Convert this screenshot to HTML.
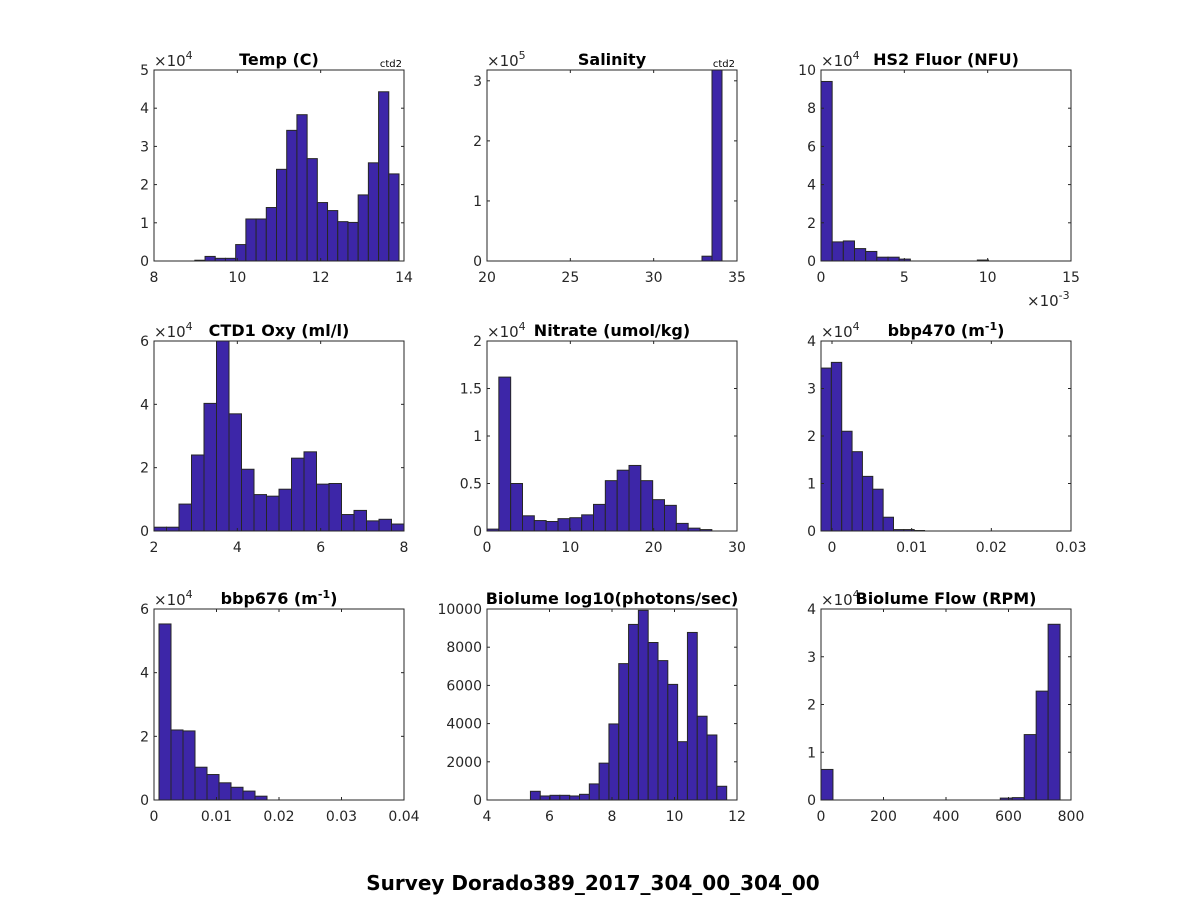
<!DOCTYPE html>
<html><head><meta charset="utf-8"><style>
html,body{margin:0;padding:0;background:#fff;}
svg{display:block;font-family:"DejaVu Sans","Liberation Sans",sans-serif;}
</style></head><body>
<svg id="fig" width="1188" height="900" viewBox="0 0 1188 900" xmlns="http://www.w3.org/2000/svg">
<rect width="1188" height="900" fill="#fff"/>
<text x="593" y="890" text-anchor="middle" font-size="20" font-weight="bold" fill="#000">Survey Dorado389_2017_304_00_304_00</text>
</svg>
<script>
// ---- data ----
const tempStart = 8.98, tempWidth = 0.245;
const tempCounts = [0.02,0.12,0.07,0.07,0.43,1.1,1.1,1.4,2.4,3.42,3.83,2.68,1.53,1.32,1.03,1.01,1.73,2.57,4.43,2.28];
const salStart = 32.9, salWidth = 0.6;
const salCounts = [0.08,3.5];
const fluorStart = 0, fluorWidth = 0.67;
const fluorCounts = [9.4,1.0,1.05,0.65,0.5,0.2,0.2,0.1,0,0,0,0,0,0,0.05];
const oxyStart = 2.0, oxyWidth = 0.3;
const oxyCounts = [0.12,0.12,0.85,2.4,4.03,6.0,3.7,1.95,1.15,1.1,1.32,2.3,2.5,1.48,1.5,0.52,0.65,0.32,0.37,0.22];
const nitStart = 0, nitWidth = 1.42;
const nitCounts = [0.02,1.62,0.5,0.16,0.11,0.1,0.13,0.14,0.17,0.28,0.53,0.64,0.69,0.53,0.33,0.27,0.08,0.03,0.015];
const b470Start = -0.00138, b470Width = 0.0013;
const b470Counts = [3.43,3.55,2.1,1.67,1.15,0.88,0.29,0.03,0.03,0.01];
const b676Start = 0.0008, b676Width = 0.00192;
const b676Counts = [5.53,2.2,2.17,1.03,0.8,0.54,0.4,0.28,0.12];
const bioStart = 5.39, bioWidth = 0.314;
const bioCounts = [456,211,246,246,211,298,842,1930,3982,7140,9193,9930,8246,7298,6053,3053,8772,4386,3404,719];
const flowStart = 0, flowWidth = 38.25;
const flowCounts = [0.64,0,0,0,0,0,0,0,0,0,0,0,0,0,0,0.04,0.05,1.37,2.28,3.68];
// tick labels
const tempXTicks = [8,10,12,14], tempYTicks = [0,1,2,3,4,5];
const salXTicks = [20,25,30,35], salYTicks = [0,1,2,3];
const fluorXTicks = [0,5,10,15], fluorYTicks = [0,2,4,6,8,10];
const oxyXTicks = [2,4,6,8], oxyYTicks = [0,2,4,6];
const nitXTicks = [0,10,20,30], nitYTicks = [0,0.5,1,1.5,2];
const b470XTicks = [0,0.01,0.02,0.03], b470YTicks = [0,1,2,3,4];
const b676XTicks = [0,0.01,0.02,0.03,0.04], b676YTicks = [0,2,4,6];
const bioXTicks = [4,6,8,10,12], bioYTicks = [0,2000,4000,6000,8000,10000];
const flowXTicks = [0,200,400,600,800], flowYTicks = [0,1,2,3,4];

const NS = "http://www.w3.org/2000/svg";
const svg = document.getElementById('fig');
function mk(tag, attrs, parent){
  const e = document.createElementNS(NS, tag);
  for (const k in attrs) e.setAttribute(k, attrs[k]);
  (parent||svg).appendChild(e); return e;
}
function panel(o){
  const g = mk('g', {});
  
  
  const L=o.box[0], R=o.box[1], T=o.box[2], B=o.box[3];
  const sx = v => L + (v - o.xlim[0]) / (o.xlim[1]-o.xlim[0]) * (R-L);
  const sy = v => B - (v - o.ylim[0]) / (o.ylim[1]-o.ylim[0]) * (B-T);
  const clip = mk('clipPath', {id: 'c_'+o.name}, g);
  mk('rect', {x:L, y:T, width:R-L, height:B-T}, clip);
  const bg = mk('g', {'clip-path':'url(#c_'+o.name+')'}, g);
  o.counts.forEach((c, i) => {
    if (c <= 0) return;
    const x0 = sx(o.start + i*o.width), x1 = sx(o.start + (i+1)*o.width);
    const r = mk('rect', {x:x0, y:sy(c), width:x1-x0, height:B-sy(c), fill:'#3d26a8', stroke:'#262626', 'stroke-width':1}, bg);
    
    
  });
  const ax = mk('rect', {x:L, y:T, width:R-L, height:B-T, fill:'none', stroke:'#262626', 'stroke-width':1}, g);
  
  
  o.xticks.forEach(v => {
    const x = sx(v);
    mk('line', {x1:x, y1:B, x2:x, y2:B-3, stroke:'#262626'}, g);
    mk('line', {x1:x, y1:T, x2:x, y2:T+3, stroke:'#262626'}, g);
    const t = mk('text', {x:x, y:B+21, 'text-anchor':'middle', 'font-size':14, fill:'#262626'}, g);
    t.textContent = String(v);
    
    
  });
  o.yticks.forEach(v => {
    const y = sy(v);
    mk('line', {x1:L, y1:y, x2:L+3, y2:y, stroke:'#262626'}, g);
    mk('line', {x1:R, y1:y, x2:R-3, y2:y, stroke:'#262626'}, g);
    const t = mk('text', {x:L-5, y:y+5, 'text-anchor':'end', 'font-size':14, fill:'#262626'}, g);
    t.textContent = String(v);
    
    
  });
  if (o.yexp) {
    const t = mk('text', {x:L, y:T-4, 'font-size':15, fill:'#262626'}, g);
    t.innerHTML = '×10<tspan dy="-7" font-size="11">' + o.yexp + '</tspan>';
    
    
  }
  if (o.xexp) {
    const t = mk('text', {x:R-44, y:B+45, 'font-size':15, fill:'#262626'}, g);
    t.innerHTML = '×10<tspan dy="-7" font-size="11">' + o.xexp + '</tspan>';
    
    
  }
  const tt = mk('text', {x:(L+R)/2, y:T-5, 'text-anchor':'middle', 'font-size':16, 'font-weight':'bold', fill:'#000'}, g);
  tt.innerHTML = o.title;
  
  
  if (o.ctd) {
    const c = mk('text', {x:R-2, y:T-3, 'text-anchor':'end', 'font-size':10, fill:'#000'}, g);
    c.textContent = 'ctd2';
    
    
  }
}
const C1=[154,404], C2=[487,737], C3=[821,1071];
const R1=[70,261], R2=[341,531], R3=[609,800];
const sup = s => s + ' (m<tspan dy="-6" font-size="11">-1</tspan><tspan dy="6">)</tspan>';
panel({name:'temp', box:[...C1,...R1], xlim:[8,14], ylim:[0,5], start:tempStart, width:tempWidth, counts:tempCounts, xticks:tempXTicks, yticks:tempYTicks, yexp:'4', title:'Temp (C)', ctd:true});
panel({name:'salinity', box:[...C2,...R1], xlim:[20,35], ylim:[0,3.18], start:salStart, width:salWidth, counts:salCounts, xticks:salXTicks, yticks:salYTicks, yexp:'5', title:'Salinity', ctd:true});
panel({name:'hs2-fluor', box:[...C3,...R1], xlim:[0,15], ylim:[0,10], start:fluorStart, width:fluorWidth, counts:fluorCounts, xticks:fluorXTicks, yticks:fluorYTicks, yexp:'4', xexp:'-3', title:'HS2 Fluor (NFU)'});
panel({name:'ctd1-oxy', box:[...C1,...R2], xlim:[2,8], ylim:[0,6], start:oxyStart, width:oxyWidth, counts:oxyCounts, xticks:oxyXTicks, yticks:oxyYTicks, yexp:'4', title:'CTD1 Oxy (ml/l)'});
panel({name:'nitrate', box:[...C2,...R2], xlim:[0,30], ylim:[0,2], start:nitStart, width:nitWidth, counts:nitCounts, xticks:nitXTicks, yticks:nitYTicks, yexp:'4', title:'Nitrate (umol/kg)'});
panel({name:'bbp470', box:[...C3,...R2], xlim:[-0.00138,0.03], ylim:[0,4], start:b470Start, width:b470Width, counts:b470Counts, xticks:b470XTicks, yticks:b470YTicks, yexp:'4', title:sup('bbp470')});
panel({name:'bbp676', box:[...C1,...R3], xlim:[0,0.04], ylim:[0,6], start:b676Start, width:b676Width, counts:b676Counts, xticks:b676XTicks, yticks:b676YTicks, yexp:'4', title:sup('bbp676')});
panel({name:'biolume', box:[...C2,...R3], xlim:[4,12], ylim:[0,10000], start:bioStart, width:bioWidth, counts:bioCounts, xticks:bioXTicks, yticks:bioYTicks, title:'Biolume log10(photons/sec)'});
panel({name:'biolume-flow', box:[...C3,...R3], xlim:[0,800], ylim:[0,4], start:flowStart, width:flowWidth, counts:flowCounts, xticks:flowXTicks, yticks:flowYTicks, yexp:'4', title:'Biolume Flow (RPM)'});
</script>
</body></html>
